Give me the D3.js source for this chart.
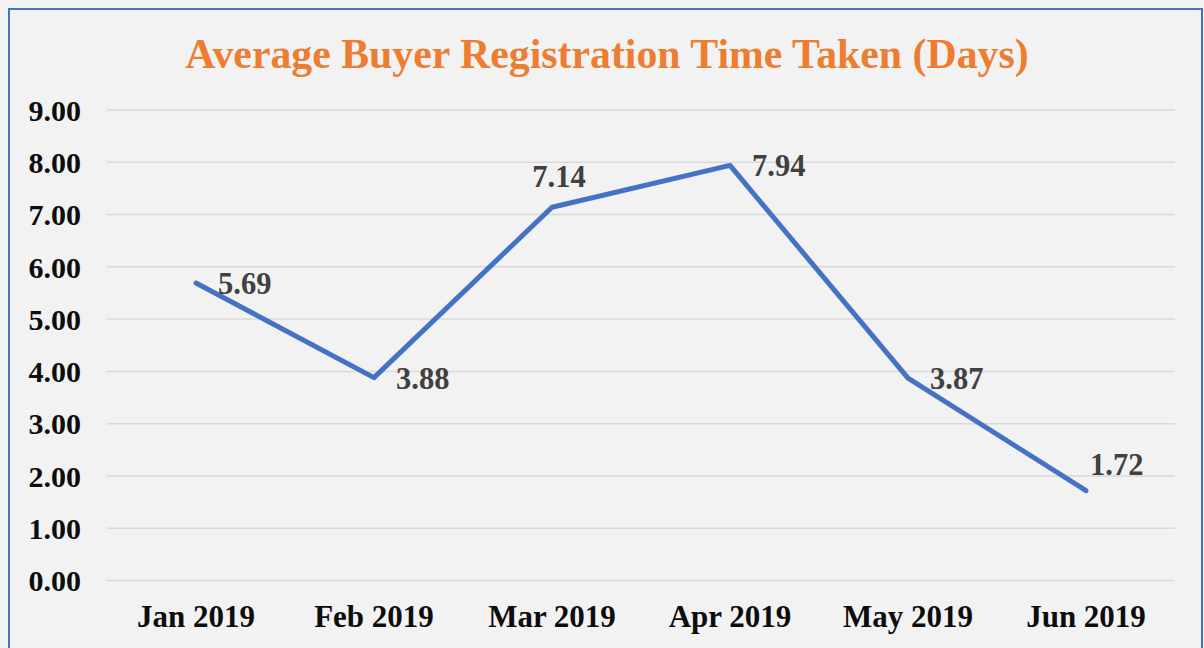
<!DOCTYPE html>
<html>
<head>
<meta charset="utf-8">
<script src="https://cdnjs.cloudflare.com/ajax/libs/d3/7.8.5/d3.min.js"></script>
<style>
  html, body { margin: 0; padding: 0; background: #f2f2f2; overflow: hidden; }
  text { font-family: "Liberation Serif", "Times New Roman", serif; font-weight: bold; }
</style>
</head>
<body>
<script>
var months = ["Jan 2019", "Feb 2019", "Mar 2019", "Apr 2019", "May 2019", "Jun 2019"];
var days = [5.69, 3.88, 7.14, 7.94, 3.87, 1.72];
var yTicks = [0, 1, 2, 3, 4, 5, 6, 7, 8, 9];
var chartTitle = "Average Buyer Registration Time Taken (Days)";
// where Excel put each data label
var labelPlace = ["right", "right", "above", "right", "right", "aboveRight"];

var width = 1204,
    height = 648,
    margin = {top: 110, right: 29, bottom: 67, left: 107};

var svg = d3.select("body").append("svg")
    .attr("width", width)
    .attr("height", height);

svg.append("rect")
    .attr("x", 0).attr("y", 0)
    .attr("width", width).attr("height", height)
    .attr("fill", "#f2f2f2");

// chart frame
svg.append("rect")
    .attr("x", 9).attr("y", 9)
    .attr("width", 1193).attr("height", 700)
    .attr("fill", "none")
    .attr("stroke", "#4472c4")
    .attr("stroke-width", 2);

var x = d3.scaleBand()
    .domain(months)
    .range([margin.left, width - margin.right]);

var y = d3.scaleLinear()
    .domain([0, 9])
    .range([height - margin.bottom - 0.5, margin.top]);

svg.append("text")
    .attr("x", 607)
    .attr("y", 68)
    .attr("text-anchor", "middle")
    .attr("fill", "#ed7d31")
    .style("font-size", "41.8px")
    .text(chartTitle);

// gridlines
svg.append("g")
  .selectAll("line")
    .data(yTicks)
  .enter().append("line")
    .attr("x1", margin.left)
    .attr("x2", width - margin.right)
    .attr("y1", function(d) { return y(d); })
    .attr("y2", function(d) { return y(d); })
    .attr("stroke", "#d9d9d9")
    .attr("stroke-width", 1.5);

var yAxis = svg.append("g")
    .attr("transform", "translate(" + margin.left + ",0)")
    .call(d3.axisLeft(y).tickValues(yTicks).tickFormat(d3.format(".2f")).tickSize(0).tickPadding(26));
yAxis.select(".domain").remove();
yAxis.selectAll("text")
    .attr("fill", "#0d0d0d")
    .style("font-size", "30px")
    .attr("dy", "0.34em");

var xAxis = svg.append("g")
    .attr("transform", "translate(0," + (height - margin.bottom) + ")")
    .call(d3.axisBottom(x).tickSize(0).tickPadding(0));
xAxis.select(".domain").remove();
xAxis.selectAll("text")
    .attr("fill", "#0d0d0d")
    .style("font-size", "31px")
    .attr("y", 46)
    .attr("dy", 0);

var line = d3.line()
    .x(function(d, i) { return x(months[i]) + x.bandwidth() / 2; })
    .y(function(d) { return y(d); });

svg.append("path")
    .datum(days)
    .attr("d", line)
    .attr("fill", "none")
    .attr("stroke", "#4472c4")
    .attr("stroke-width", 5)
    .attr("stroke-linejoin", "round")
    .attr("stroke-linecap", "round");

svg.append("g")
  .selectAll("text")
    .data(days)
  .enter().append("text")
    .attr("fill", "#404040")
    .style("font-size", "30.5px")
    .attr("text-anchor", function(d, i) { return labelPlace[i] == "above" ? "middle" : "start"; })
    .attr("x", function(d, i) {
      var cx = x(months[i]) + x.bandwidth() / 2;
      if (labelPlace[i] == "above") return cx + 7;
      if (labelPlace[i] == "aboveRight") return cx + 4;
      return cx + 22;
    })
    .attr("y", function(d, i) {
      var cy = y(d);
      if (labelPlace[i] == "above") return cy - 20;
      if (labelPlace[i] == "aboveRight") return cy - 16;
      return cy + 11;
    })
    .text(function(d) { return d3.format(".2f")(d); });
</script>
</body>
</html>
